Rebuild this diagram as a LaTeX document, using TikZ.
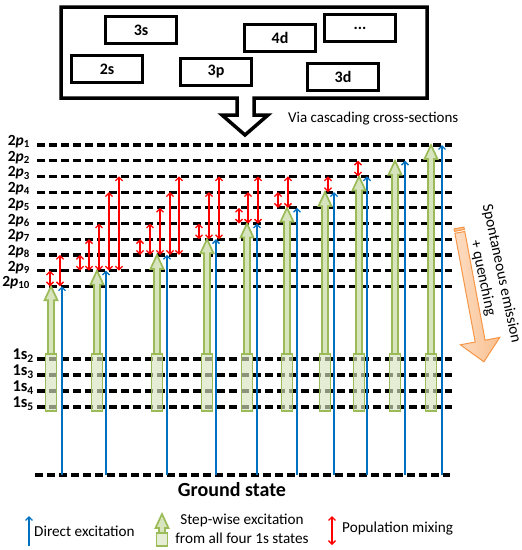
\documentclass[tikz,border=0pt]{standalone}
\usepackage{fontspec}
\setmainfont{Carlito}
\usetikzlibrary{arrows.meta}
\definecolor{gline}{HTML}{9BBB59}
\definecolor{gfill}{HTML}{D7E4BD}
\definecolor{bline}{HTML}{0070C0}
\definecolor{rline}{HTML}{FF0000}
\definecolor{oline}{HTML}{F79646}
\definecolor{ofill}{HTML}{FAC090}
\begin{document}
\begin{tikzpicture}[x=1pt,y=-1pt,
 level/.style={line width=3.2pt, dash pattern=on 8pt off 4pt},
 direct/.style={draw=bline, line width=1.3pt, -{Straight Barb[length=3.5pt,width=7pt]}},
 mix/.style={draw=rline, line width=1.3pt, {Straight Barb[length=3.5pt,width=7pt]}-{Straight Barb[length=3.5pt,width=7pt]}},
 stepw/.style={draw=gline, fill=gfill, line width=1.7pt, line join=miter},
 stepbox/.style={draw=gline, fill=gfill, fill opacity=0.65, line width=1.7pt},
 inbox/.style={draw, line width=2.2pt, minimum width=71pt, minimum height=27pt, inner sep=0pt, font=\fontsize{16}{18}\selectfont\bfseries},
 lab/.style={font=\fontsize{15.5}{17}\selectfont\bfseries, inner sep=0pt, anchor=base east},
 txt/.style={font=\fontsize{15.2}{19}\selectfont, inner sep=0pt}
]
\useasboundingbox (0,0) rectangle (522,550);

% top callout box
\draw[line width=3.5pt, line join=miter] (61,7) -- (427,7) -- (427,98) -- (254,98) -- (254,115) -- (268,115) -- (245,135) -- (222,115) -- (237,115) -- (237,98) -- (61,98) -- cycle;
\node[inbox] (b3s) at (141,30) {3s};
\node[inbox] (b2s) at (107,69) {2s};
\node[inbox] (b3p) at (216,72) {3p};
\node[inbox] (b4d) at (280,38) {4d};
\node[inbox] (bdots) at (360,28) {...};
\node[inbox] (b3d) at (343,77) {3d};
\node[font=\fontsize{15}{18}\selectfont, inner sep=0pt, anchor=west] (via) at (288,119) {Via cascading cross-sections};

% 2p levels
\foreach \k in {1,...,10} {
  \pgfmathsetmacro{\yy}{145+(\k-1)*15.7}
  \coordinate (p\k L) at (37,\yy);
  \coordinate (p\k R) at (452,\yy);
  \draw[level] (p\k L) -- (p\k R);
  \node[lab] (lp\k) at (30,\yy+0.5) {2\textit{p}\textsubscript{\k}};
}
% 1s levels
\foreach \k/\yy in {2/359,3/375,4/391,5/407} {
  \coordinate (s\k L) at (37,\yy);
  \coordinate (s\k R) at (452,\yy);
  \draw[level] (s\k L) -- (s\k R);
  \node[lab, font=\fontsize{16.5}{18}\selectfont\bfseries] (ls\k) at (34,\yy+0.5) {1s\textsubscript{\k}};
}
% ground
\coordinate (gL) at (35,475);
\coordinate (gR) at (450,475);
\draw[level] (gL) -- (gR);
\node[font=\fontsize{20}{22}\selectfont\bfseries, inner sep=0pt] (gs) at (232,490) {Ground state};

% columns
\foreach \g/\b/\l [count=\n] in {51/62/10, 97/106/9, 157/167/8, 207/216/7, 247/257/6, 287/297/5, 325/334/4, 359/367/3, 395/405/2, 431/442/1} {
  \pgfmathsetmacro{\yy}{145+(\l-1)*15.7}
  \coordinate (bg\n) at (\b,475);
  \coordinate (bt\n) at (\b,\yy);
  \draw[direct] (bg\n) -- (bt\n);
  \coordinate (gt\n) at (\g,\yy);
  \draw[stepw] (gt\n) -- (\g+6.5,\yy+14) -- (\g+3,\yy+14) -- (\g+3,354) -- (\g-3,354) -- (\g-3,\yy+14) -- (\g-6.5,\yy+14) -- cycle;
  \draw[stepbox] (\g-5.5,354) rectangle (\g+5.5,411);
}

% population mixing
\foreach \x/\u/\d [count=\n] in {50/9/10, 60/8/10, 80/8/9, 89/7/9, 99/6/9, 109/4/9, 119/3/9, 140/7/8, 150/6/8, 160/5/8, 170/4/8, 179/3/8, 199/6/7, 209/4/7, 219/3/7, 239/5/6, 248/4/6, 258/3/6, 278/4/5, 288/3/5, 328/3/4, 358/2/3} {
  \pgfmathsetmacro{\ya}{145+(\u-1)*15.7}
  \pgfmathsetmacro{\yb}{145+(\d-1)*15.7}
  \coordinate (ra\n) at (\x,\ya);
  \coordinate (rb\n) at (\x,\yb);
  \draw[mix] (rb\n) -- (ra\n);
}

% orange arrow
\draw[draw=oline, fill=ofill, line width=1pt] (463.9,227.1) -- (454.1,228.9) -- (454.5,231.4) -- (464.4,229.5) -- cycle;
\draw[draw=oline, left color=ofill!55!white, right color=ofill, line width=1pt, line join=miter]
  (464.8,231.5) -- (485.1,340.2) -- (499.8,337.4) -- (483.9,361.8) -- (460.4,344.8) -- (475.2,342.0) -- (454.9,233.3) -- cycle;
\node[font=\fontsize{15.5}{19}\selectfont, align=center, rotate=-78, inner sep=0pt] (spont) at (492,276) {Spontaneous emission\\+ quenching};

% legend
\coordinate (lb1) at (29,546);
\coordinate (lb2) at (29,516);
\draw[direct] (lb1) -- (lb2);
\node[txt, anchor=west] (ld) at (34,531) {Direct excitation};
\coordinate (lg) at (162,514);
\draw[stepw] (lg) -- (168.5,528) -- (165,528) -- (165,533) -- (159,533) -- (159,528) -- (155.5,528) -- cycle;
\draw[stepbox] (156.5,533) rectangle (167.5,546);
\node[txt, align=center] (ls) at (242,528.5) {Step-wise excitation\\from all four 1s states};
\coordinate (lr1) at (332,545);
\coordinate (lr2) at (332,516);
\draw[mix] (lr1) -- (lr2);
\node[txt, anchor=west] (lp) at (342,529) {Population mixing};
\end{tikzpicture}
\end{document}
